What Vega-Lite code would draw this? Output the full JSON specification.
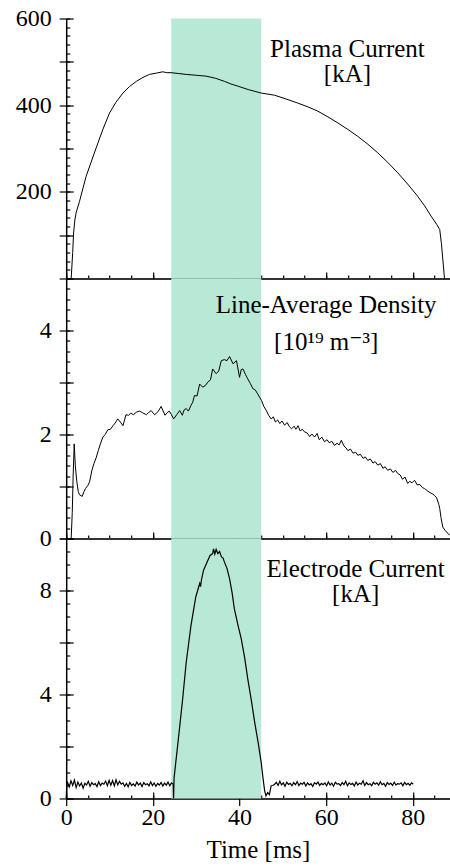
{
  "$schema": "https://vega.github.io/schema/vega-lite/v6.json",
  "padding": {"left": 15.2, "top": 6.5, "right": 0, "bottom": 2},
  "background": "white",
  "config": {
    "font": "Liberation Serif, DejaVu Serif, serif",
    "view": {"stroke": null},
    "axis": {
      "labelFont": "Liberation Serif, DejaVu Serif, serif", "labelFontSize": 24, "labelColor": "black",
      "titleFont": "Liberation Serif, DejaVu Serif, serif", "titleFontSize": 25, "titleFontWeight": "normal", "titleColor": "black",
      "grid": false, "tickColor": "black", "tickWidth": 1.2, "domainColor": "black", "labelOverlap": false, "labelFlush": false
    }
  },
  "datasets": {
    "band": [{"start": 24.25, "end": 45.0}],
    "ip": [
      {"t":0,"v":0},{"t":1.15,"v":0},{"t":1.5,"v":60},{"t":1.7,"v":105},{"t":2.0,"v":135},{"t":2.3,"v":152},{"t":3.07,"v":178},{"t":4.6,"v":236},{"t":6.9,"v":301},{"t":8.5,"v":345},{"t":10.0,"v":382},{"t":11.5,"v":407},{"t":13.1,"v":428},{"t":14.6,"v":443},{"t":16.2,"v":455},{"t":17.7,"v":464},{"t":19.2,"v":471},{"t":20.8,"v":474},{"t":22.3,"v":477},{"t":23.2,"v":475},{"t":24.2,"v":475},{"t":26,"v":473},{"t":27.7,"v":471},{"t":30,"v":469},{"t":32.3,"v":467},{"t":34.5,"v":462},{"t":36.5,"v":455},{"t":38,"v":449},{"t":39.6,"v":444},{"t":42,"v":436},{"t":45.0,"v":428},{"t":48.1,"v":423},{"t":50.8,"v":414},{"t":53.4,"v":405},{"t":55.8,"v":396},{"t":58.1,"v":386},{"t":60.4,"v":373},{"t":62.7,"v":359},{"t":65,"v":344},{"t":67.3,"v":328},{"t":69.6,"v":310},{"t":71.9,"v":290},{"t":74.2,"v":268},{"t":76.5,"v":244},{"t":78.8,"v":218},{"t":81.1,"v":190},{"t":82.7,"v":168},{"t":84.2,"v":144},{"t":85.5,"v":125},{"t":86.2,"v":113},{"t":86.6,"v":80},{"t":87.3,"v":0}
    ],
    "ne": [
      {"t":0,"v":0},{"t":1.15,"v":0},{"t":1.4,"v":0.5},{"t":1.6,"v":1.2},{"t":1.85,"v":1.82},{"t":2.1,"v":1.4},{"t":2.45,"v":1.09},{"t":2.8,"v":0.9},{"t":3.07,"v":0.84},{"t":3.7,"v":0.81},{"t":4.1,"v":0.9},{"t":4.45,"v":0.96},{"t":5.0,"v":1.02},{"t":5.4,"v":1.09},{"t":5.9,"v":1.3},{"t":6.4,"v":1.44},{"t":6.9,"v":1.55},{"t":7.4,"v":1.69},{"t":7.9,"v":1.82},{"t":8.45,"v":1.95},{"t":9.0,"v":2.0},{"t":9.6,"v":2.09},{"t":10.2,"v":2.1},{"t":10.8,"v":2.17},{"t":11.3,"v":2.22},{"t":11.9,"v":2.30},{"t":12.5,"v":2.24},{"t":13.1,"v":2.17},{"t":13.8,"v":2.38},{"t":14.4,"v":2.37},{"t":14.9,"v":2.41},{"t":15.5,"v":2.38},{"t":16.2,"v":2.43},{"t":16.9,"v":2.45},{"t":17.6,"v":2.42},{"t":18.5,"v":2.38},{"t":19.0,"v":2.42},{"t":19.6,"v":2.46},{"t":20.4,"v":2.38},{"t":21.2,"v":2.44},{"t":21.9,"v":2.54},{"t":22.8,"v":2.37},{"t":23.3,"v":2.42},{"t":23.8,"v":2.45},{"t":24.3,"v":2.38},{"t":24.8,"v":2.30},{"t":25.5,"v":2.38},{"t":26.2,"v":2.46},{"t":26.8,"v":2.37},{"t":27.2,"v":2.47},{"t":27.7,"v":2.50},{"t":28.2,"v":2.45},{"t":28.8,"v":2.56},{"t":29.2,"v":2.62},{"t":29.6,"v":2.75},{"t":30.2,"v":2.74},{"t":30.8,"v":2.97},{"t":31.5,"v":2.91},{"t":32.1,"v":2.94},{"t":32.7,"v":3.01},{"t":33.3,"v":3.05},{"t":33.8,"v":3.26},{"t":34.6,"v":3.17},{"t":35.2,"v":3.22},{"t":35.8,"v":3.42},{"t":36.5,"v":3.44},{"t":37.1,"v":3.42},{"t":37.7,"v":3.50},{"t":38.5,"v":3.36},{"t":39.3,"v":3.42},{"t":40.0,"v":3.10},{"t":40.4,"v":3.25},{"t":40.8,"v":3.26},{"t":41.4,"v":3.15},{"t":41.9,"v":3.07},{"t":42.5,"v":2.98},{"t":43.1,"v":2.88},{"t":43.6,"v":2.86},{"t":44.2,"v":2.78},{"t":45.1,"v":2.65},{"t":45.6,"v":2.54},{"t":46.2,"v":2.46},{"t":46.7,"v":2.37},{"t":47.3,"v":2.30},{"t":47.8,"v":2.34},{"t":48.3,"v":2.24},{"t":48.8,"v":2.28},{"t":49.3,"v":2.21},{"t":49.8,"v":2.26},{"t":50.4,"v":2.18},{"t":51.0,"v":2.23},{"t":51.5,"v":2.15},{"t":52.0,"v":2.11},{"t":52.6,"v":2.16},{"t":53.0,"v":2.10},{"t":53.5,"v":2.17},{"t":54.0,"v":2.07},{"t":54.5,"v":2.10},{"t":55.0,"v":2.05},{"t":55.6,"v":2.03},{"t":56.2,"v":1.96},{"t":56.7,"v":2.01},{"t":57.3,"v":1.95},{"t":57.9,"v":2.02},{"t":58.4,"v":1.90},{"t":59.0,"v":1.95},{"t":59.6,"v":1.86},{"t":60.2,"v":1.90},{"t":60.7,"v":1.84},{"t":61.3,"v":1.87},{"t":61.9,"v":1.79},{"t":62.5,"v":1.83},{"t":63.0,"v":1.80},{"t":63.5,"v":1.89},{"t":64.1,"v":1.78},{"t":64.6,"v":1.74},{"t":65.0,"v":1.69},{"t":65.6,"v":1.72},{"t":66.2,"v":1.64},{"t":66.8,"v":1.66},{"t":67.3,"v":1.60},{"t":67.9,"v":1.62},{"t":68.5,"v":1.54},{"t":69.0,"v":1.57},{"t":69.6,"v":1.50},{"t":70.2,"v":1.53},{"t":70.8,"v":1.45},{"t":71.3,"v":1.48},{"t":71.9,"v":1.41},{"t":72.5,"v":1.44},{"t":73.1,"v":1.35},{"t":73.6,"v":1.38},{"t":74.2,"v":1.31},{"t":74.8,"v":1.34},{"t":75.4,"v":1.27},{"t":76.0,"v":1.31},{"t":76.5,"v":1.25},{"t":77.1,"v":1.22},{"t":77.6,"v":1.14},{"t":78.2,"v":1.18},{"t":78.8,"v":1.06},{"t":79.3,"v":1.10},{"t":79.8,"v":1.07},{"t":80.4,"v":1.12},{"t":81.0,"v":1.03},{"t":81.6,"v":1.04},{"t":82.2,"v":0.98},{"t":82.7,"v":0.96},{"t":83.3,"v":0.92},{"t":84.0,"v":0.88},{"t":84.5,"v":0.86},{"t":85.0,"v":0.83},{"t":85.5,"v":0.78},{"t":86.0,"v":0.65},{"t":86.2,"v":0.58},{"t":86.5,"v":0.40},{"t":86.9,"v":0.22},{"t":87.5,"v":0.15},{"t":88.5,"v":0.06}
    ],
    "ie": [
      {"t":0,"v":0},{"t":0.15,"v":0.55},
      {"t":0.3,"v":0.62},{"t":0.7,"v":0.45},{"t":1.1,"v":0.68},{"t":1.5,"v":0.50},{"t":1.9,"v":0.71},{"t":2.3,"v":0.42},{"t":2.7,"v":0.63},{"t":3.1,"v":0.48},{"t":3.5,"v":0.60},{"t":3.9,"v":0.40},
      {"t":4.3,"v":0.58},{"t":4.7,"v":0.52},{"t":5.1,"v":0.66},{"t":5.5,"v":0.47},{"t":5.9,"v":0.61},{"t":6.3,"v":0.53},{"t":6.7,"v":0.57},{"t":7.1,"v":0.46},{"t":7.5,"v":0.64},{"t":7.9,"v":0.50},
      {"t":8.3,"v":0.59},{"t":8.7,"v":0.55},{"t":9.1,"v":0.67},{"t":9.5,"v":0.49},{"t":9.9,"v":0.70},{"t":10.3,"v":0.51},{"t":10.7,"v":0.69},{"t":11.1,"v":0.48},{"t":11.5,"v":0.72},{"t":11.9,"v":0.52},
      {"t":12.3,"v":0.66},{"t":12.7,"v":0.55},{"t":13.1,"v":0.60},{"t":13.5,"v":0.47},{"t":13.9,"v":0.58},{"t":14.3,"v":0.45},{"t":14.7,"v":0.62},{"t":15.1,"v":0.50},{"t":15.5,"v":0.56},{"t":15.9,"v":0.48},
      {"t":16.3,"v":0.63},{"t":16.7,"v":0.52},{"t":17.1,"v":0.59},{"t":17.5,"v":0.46},{"t":17.9,"v":0.61},{"t":18.3,"v":0.53},{"t":18.7,"v":0.57},{"t":19.1,"v":0.49},{"t":19.5,"v":0.64},{"t":19.9,"v":0.50},
      {"t":20.3,"v":0.60},{"t":20.7,"v":0.47},{"t":21.1,"v":0.58},{"t":21.5,"v":0.52},{"t":21.9,"v":0.62},{"t":22.3,"v":0.48},{"t":22.7,"v":0.59},{"t":23.1,"v":0.51},{"t":23.5,"v":0.63},{"t":23.9,"v":0.49},
      {"t":24.3,"v":0.60},{"t":24.7,"v":0.55},
      {"t":24.78,"v":0.0},{"t":24.9,"v":0.8},{"t":25.8,"v":2.16},{"t":26.8,"v":3.70},{"t":27.7,"v":5.24},{"t":28.8,"v":6.66},{"t":29.9,"v":7.75},{"t":30.8,"v":8.27},{"t":31.0,"v":8.15},{"t":31.2,"v":8.4},{"t":31.7,"v":8.78},{"t":32.7,"v":9.16},{"t":33.2,"v":9.35},{"t":33.8,"v":9.42},{"t":34.0,"v":9.6},{"t":34.3,"v":9.4},{"t":34.6,"v":9.58},{"t":35.0,"v":9.42},{"t":35.4,"v":9.5},{"t":35.8,"v":9.3},{"t":36.2,"v":9.25},{"t":36.5,"v":9.1},{"t":37.1,"v":8.85},{"t":37.7,"v":8.46},{"t":38.3,"v":7.9},{"t":38.8,"v":7.30},{"t":39.6,"v":6.7},{"t":40.4,"v":6.14},{"t":41.2,"v":5.4},{"t":41.9,"v":4.60},{"t":42.7,"v":3.8},{"t":43.5,"v":2.93},{"t":44.3,"v":2.15},{"t":45.0,"v":1.39},{"t":45.4,"v":0.8},{"t":45.8,"v":0.29},{"t":46.1,"v":0.1},{"t":46.5,"v":0.23},{"t":46.9,"v":0.15},{"t":47.3,"v":0.49},{"t":47.7,"v":0.5},
      {"t":48.1,"v":0.55},{"t":48.5,"v":0.62},{"t":48.9,"v":0.50},{"t":49.3,"v":0.66},{"t":49.7,"v":0.52},{"t":50.1,"v":0.60},{"t":50.5,"v":0.47},{"t":50.9,"v":0.63},{"t":51.3,"v":0.54},{"t":51.7,"v":0.58},
      {"t":52.1,"v":0.49},{"t":52.5,"v":0.61},{"t":52.9,"v":0.53},{"t":53.3,"v":0.65},{"t":53.7,"v":0.50},{"t":54.1,"v":0.59},{"t":54.5,"v":0.55},{"t":54.9,"v":0.62},{"t":55.3,"v":0.48},{"t":55.7,"v":0.60},
      {"t":56.1,"v":0.52},{"t":56.5,"v":0.57},{"t":56.9,"v":0.46},{"t":57.3,"v":0.61},{"t":57.7,"v":0.55},{"t":58.1,"v":0.63},{"t":58.5,"v":0.50},{"t":58.9,"v":0.58},{"t":59.3,"v":0.53},{"t":59.7,"v":0.60},
      {"t":60.1,"v":0.49},{"t":60.5,"v":0.64},{"t":60.9,"v":0.52},{"t":61.3,"v":0.59},{"t":61.7,"v":0.47},{"t":62.1,"v":0.62},{"t":62.5,"v":0.55},{"t":62.9,"v":0.57},{"t":63.3,"v":0.50},{"t":63.7,"v":0.61},
      {"t":64.1,"v":0.53},{"t":64.5,"v":0.66},{"t":64.9,"v":0.49},{"t":65.3,"v":0.60},{"t":65.7,"v":0.54},{"t":66.1,"v":0.58},{"t":66.5,"v":0.48},{"t":66.9,"v":0.63},{"t":67.3,"v":0.52},{"t":67.7,"v":0.59},
      {"t":68.1,"v":0.55},{"t":68.5,"v":0.68},{"t":68.9,"v":0.50},{"t":69.3,"v":0.61},{"t":69.7,"v":0.53},{"t":70.1,"v":0.57},{"t":70.5,"v":0.49},{"t":70.9,"v":0.62},{"t":71.3,"v":0.55},{"t":71.7,"v":0.60},
      {"t":72.1,"v":0.51},{"t":72.5,"v":0.64},{"t":72.9,"v":0.53},{"t":73.3,"v":0.58},{"t":73.7,"v":0.47},{"t":74.1,"v":0.61},{"t":74.5,"v":0.54},{"t":74.9,"v":0.59},{"t":75.3,"v":0.50},{"t":75.7,"v":0.63},
      {"t":76.1,"v":0.52},{"t":76.5,"v":0.57},{"t":76.9,"v":0.55},{"t":77.3,"v":0.60},{"t":77.7,"v":0.49},{"t":78.1,"v":0.62},{"t":78.5,"v":0.53},{"t":78.9,"v":0.58},{"t":79.3,"v":0.51},{"t":79.7,"v":0.60},
      {"t":80.1,"v":0.55}
    ],
    "lab_ip": [{"t":64.9,"v":511,"text":"Plasma Current\n[kA]"}],
    "lab_ne": [{"t":60.0,"v":4.345,"text":"Line-Average Density\n[10¹⁹ m⁻³]"}],
    "lab_ie": [{"t":66.8,"v":8.5,"text":"Electrode Current\n[kA]"}]
  },
  "spacing": 0,
  "bounds": "flush",
  "vconcat": [
    {
      "width": 383.5, "height": 260,
      "resolve": {"scale": {"x": "shared", "y": "shared"}, "axis": {"x": "independent", "y": "independent"}},
      "layer": [
        {
          "data": {"name": "band"},
          "mark": {"type": "rect", "color": "#b8e8d6"},
          "encoding": {
            "x": {"field": "start", "type": "quantitative", "scale": {"domain": [0, 88.5], "nice": false},
              "axis": {"orient": "bottom", "title": null, "values": [0,5,10,15,20,25,30,35,40,45,50,55,60,65,70,75,80,85], "labels": false, "tickSize": -3.5, "domainColor": "#333", "domainWidth": 2}},
            "x2": {"field": "end"},
            "y": {"datum": 0, "type": "quantitative", "scale": {"domain": [0, 600], "nice": false},
              "axis": {"orient": "left", "title": null, "values": [0,20,40,60,80,100,120,140,160,180,200,220,240,260,280,300,320,340,360,380,400,420,440,460,480,500,520,540,560,580,600], "labels": false, "tickSize": -3.5, "domainWidth": 1.5}},
            "y2": {"datum": 600}
          }
        },
        {
          "data": {"name": "ip"},
          "mark": {"type": "line", "color": "black", "strokeWidth": 1},
          "encoding": {
            "x": {"field": "t", "type": "quantitative", "scale": {"domain": [0, 88.5], "nice": false},
              "axis": {"orient": "bottom", "title": null, "values": [0,20,40,60,80], "labels": false, "tickSize": -6.5, "domain": false}},
            "y": {"field": "v", "type": "quantitative", "scale": {"domain": [0, 600], "nice": false},
              "axis": {"orient": "left", "title": null, "values": [100,300,500], "labels": false, "tickSize": 14, "offset": -7, "domain": false}}
          }
        },
        {
          "data": {"name": "lab_ip"},
          "mark": {"type": "text", "fontSize": 25, "align": "center", "baseline": "alphabetic", "lineBreak": "\n", "lineHeight": 25, "color": "black"},
          "encoding": {
            "x": {"field": "t", "type": "quantitative", "scale": {"domain": [0, 88.5], "nice": false}, "axis": null},
            "y": {"field": "v", "type": "quantitative", "scale": {"domain": [0, 600], "nice": false},
              "axis": {"orient": "left", "title": null, "values": [200,400,600], "tickSize": 14, "offset": -7, "labelPadding": 8, "domain": false}},
            "text": {"field": "text"}
          }
        },
        {
          "mark": {"type": "rule", "color": "#777", "strokeWidth": 1.5},
          "encoding": {"y": {"datum": 600, "type": "quantitative", "axis": null}}
        }
      ]
    },
    {
      "width": 383.5, "height": 260,
      "resolve": {"scale": {"x": "shared", "y": "shared"}, "axis": {"x": "independent", "y": "independent"}},
      "layer": [
        {
          "data": {"name": "band"},
          "mark": {"type": "rect", "color": "#b8e8d6"},
          "encoding": {
            "x": {"field": "start", "type": "quantitative", "scale": {"domain": [0, 88.5], "nice": false},
              "axis": {"orient": "bottom", "title": null, "values": [0,5,10,15,20,25,30,35,40,45,50,55,60,65,70,75,80,85], "labels": false, "tickSize": -3.5, "domainColor": "#333", "domainWidth": 2}},
            "x2": {"field": "end"},
            "y": {"datum": 0, "type": "quantitative", "scale": {"domain": [0, 5], "nice": false},
              "axis": {"orient": "left", "title": null, "values": [0,0.2,0.4,0.6,0.8,1,1.2,1.4,1.6,1.8,2,2.2,2.4,2.6,2.8,3,3.2,3.4,3.6,3.8,4,4.2,4.4,4.6,4.8,5], "labels": false, "tickSize": -3.5, "domainWidth": 1.5}},
            "y2": {"datum": 5}
          }
        },
        {
          "data": {"name": "ne"},
          "mark": {"type": "line", "color": "black", "strokeWidth": 1},
          "encoding": {
            "x": {"field": "t", "type": "quantitative", "scale": {"domain": [0, 88.5], "nice": false},
              "axis": {"orient": "bottom", "title": null, "values": [0,20,40,60,80], "labels": false, "tickSize": -6.5, "domain": false}},
            "y": {"field": "v", "type": "quantitative", "scale": {"domain": [0, 5], "nice": false},
              "axis": {"orient": "left", "title": null, "values": [1,3,5], "labels": false, "tickSize": 14, "offset": -7, "domain": false}}
          }
        },
        {
          "data": {"name": "lab_ne"},
          "mark": {"type": "text", "fontSize": 25, "align": "center", "baseline": "alphabetic", "lineBreak": "\n", "lineHeight": 37, "color": "black"},
          "encoding": {
            "x": {"field": "t", "type": "quantitative", "scale": {"domain": [0, 88.5], "nice": false}, "axis": null},
            "y": {"field": "v", "type": "quantitative", "scale": {"domain": [0, 5], "nice": false},
              "axis": {"orient": "left", "title": null, "values": [0,2,4], "tickSize": 14, "offset": -7, "labelPadding": 8, "domain": false}},
            "text": {"field": "text"}
          }
        }
      ]
    },
    {
      "width": 383.5, "height": 260,
      "resolve": {"scale": {"x": "shared", "y": "shared"}, "axis": {"x": "independent", "y": "independent"}},
      "layer": [
        {
          "data": {"name": "band"},
          "mark": {"type": "rect", "color": "#b8e8d6"},
          "encoding": {
            "x": {"field": "start", "type": "quantitative", "scale": {"domain": [0, 88.5], "nice": false},
              "axis": {"orient": "bottom", "title": null, "values": [0,5,10,15,20,25,30,35,40,45,50,55,60,65,70,75,80,85], "labels": false, "tickSize": -3.5, "domainColor": "#333", "domainWidth": 2}},
            "x2": {"field": "end"},
            "y": {"datum": 0, "type": "quantitative", "scale": {"domain": [0, 10], "nice": false},
              "axis": {"orient": "left", "title": null, "values": [0,0.5,1,1.5,2,2.5,3,3.5,4,4.5,5,5.5,6,6.5,7,7.5,8,8.5,9,9.5,10], "labels": false, "tickSize": -3.5, "domainWidth": 1.5}},
            "y2": {"datum": 10}
          }
        },
        {
          "data": {"name": "ie"},
          "mark": {"type": "line", "color": "black", "strokeWidth": 1.2},
          "encoding": {
            "x": {"field": "t", "type": "quantitative", "scale": {"domain": [0, 88.5], "nice": false},
              "axis": {"orient": "bottom", "title": null, "values": [0,20,40,60,80], "labels": false, "tickSize": -6.5, "domain": false}},
            "y": {"field": "v", "type": "quantitative", "scale": {"domain": [0, 10], "nice": false},
              "axis": {"orient": "left", "title": null, "values": [2,6,10], "labels": false, "tickSize": 14, "offset": -7, "domain": false}}
          }
        },
        {
          "data": {"name": "lab_ie"},
          "mark": {"type": "text", "fontSize": 25, "align": "center", "baseline": "alphabetic", "lineBreak": "\n", "lineHeight": 25, "color": "black"},
          "encoding": {
            "x": {"field": "t", "type": "quantitative", "scale": {"domain": [0, 88.5], "nice": false},
              "axis": {"orient": "bottom", "title": "Time [ms]", "values": [0,20,40,60,80], "tickSize": 7, "labelPadding": 0, "titlePadding": 8, "domain": false}},
            "y": {"field": "v", "type": "quantitative", "scale": {"domain": [0, 10], "nice": false},
              "axis": {"orient": "left", "title": null, "values": [0,4,8], "tickSize": 14, "offset": -7, "labelPadding": 8, "domain": false}},
            "text": {"field": "text"}
          }
        }
      ]
    }
  ]
}
